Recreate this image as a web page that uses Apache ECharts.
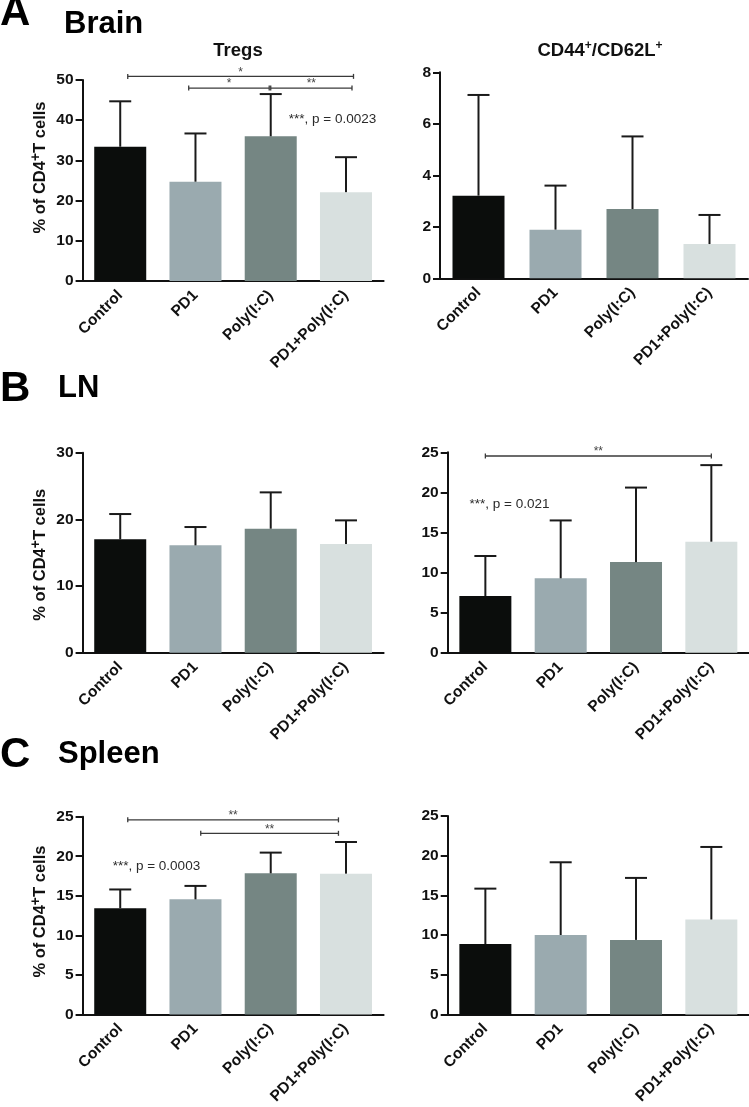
<!DOCTYPE html>
<html>
<head>
<meta charset="utf-8">
<script src="https://cdn.jsdelivr.net/npm/echarts@6/dist/echarts.min.js"></script>
<style>
html,body{margin:0;padding:0;background:#fff;}
#chart{width:749px;height:1107px;}
</style>
</head>
<body>
<div id="chart"></div>
<script>
// ---- data ----
const categories = ['Control', 'PD1', 'Poly(I:C)', 'PD1+Poly(I:C)'];
const barColors = ['#0b0d0c', '#9aaaaf', '#758683', '#d8e0df'];

const brainTregsMean  = [33.4, 24.7, 36.0, 22.1];
const brainTregsUpper = [44.7, 36.7, 46.5, 30.8];
const brainCD44Mean   = [3.21, 1.89, 2.69, 1.33];
const brainCD44Upper  = [7.12, 3.60, 5.51, 2.46];
const lnTregsMean     = [17.0, 16.1, 18.6, 16.3];
const lnTregsUpper    = [20.8, 18.85, 24.05, 19.85];
const lnCD44Mean      = [7.07, 9.28, 11.3, 13.85];
const lnCD44Upper     = [12.06, 16.5, 20.6, 23.4];
const spleenTregsMean  = [13.43, 14.55, 17.84, 17.8];
const spleenTregsUpper = [15.8, 16.25, 20.46, 21.8];
const spleenCD44Mean   = [8.86, 10.01, 9.39, 11.96];
const spleenCD44Upper  = [15.85, 19.17, 17.2, 21.1];

const yMax      = [50, 8, 30, 25, 25, 25];
const yInterval = [10, 2, 10, 5, 5, 5];

// significance brackets: [from (category pos), to (category pos), y value, label]
const brainTregsBrackets  = [[0.1, 3.1, 50.9, '*'], [0.91, 1.98, 48.0, '*'], [2.0, 3.08, 48.0, '**']];
const lnCD44Brackets      = [[0, 3, 24.54, '**']];
const spleenTregsBrackets = [[0.1, 2.9, 24.6, '**'], [1.07, 2.9, 22.9, '**']];
// notes: [x (category pos, left edge), y value, text]
const brainTregsNote  = [2.24, 40.3, '***, p = 0.0023'];
const lnCD44Note      = [-0.21, 18.55, '***, p = 0.021'];
const spleenTregsNote = [-0.1, 18.7, '***, p = 0.0003'];

// ---- layout ----
const FONT = '"Liberation Sans", Arial, Helvetica, sans-serif';
const grids = [
  {left: 82.6, top: 80,    width: 301,   height: 201},
  {left: 440,  top: 72.3,  width: 308,   height: 206},
  {left: 82.6, top: 452.7, width: 301,   height: 200},
  {left: 447.7,top: 452.3, width: 301.3, height: 200.4},
  {left: 82.6, top: 816.7, width: 301,   height: 200},
  {left: 447.7,top: 816,   width: 301.3, height: 201.3}
];
const panels = [
  {mean: brainTregsMean, upper: brainTregsUpper, brackets: brainTregsBrackets, note: brainTregsNote, yName: true, namePad: [0,0,0,26]},
  {mean: brainCD44Mean, upper: brainCD44Upper, brackets: [], note: null, yName: false},
  {mean: lnTregsMean, upper: lnTregsUpper, brackets: [], note: null, yName: true, namePad: [0,4,0,0]},
  {mean: lnCD44Mean, upper: lnCD44Upper, brackets: lnCD44Brackets, note: lnCD44Note, yName: false},
  {mean: spleenTregsMean, upper: spleenTregsUpper, brackets: spleenTregsBrackets, note: spleenTregsNote, yName: true, namePad: [0,0,0,8]},
  {mean: spleenCD44Mean, upper: spleenCD44Upper, brackets: [], note: null, yName: false}
];

const xAxes = [], yAxes = [], series = [];
panels.forEach((p, i) => {
  xAxes.push({
    type: 'category', gridIndex: i, data: categories,
    axisLine: {lineStyle: {color: '#111', width: 2}},
    axisTick: {alignWithLabel: true, length: 8, lineStyle: {color: '#111', width: 2}},
    axisLabel: {interval: 0, rotate: 45, margin: 12, color: '#111', fontSize: 15.5, fontWeight: 'bold', fontFamily: FONT}
  });
  const ya = {
    type: 'value', gridIndex: i, min: 0, max: yMax[i], interval: yInterval[i],
    splitLine: {show: false},
    axisLine: {show: true, lineStyle: {color: '#111', width: 2}},
    axisTick: {show: true, length: 7, lineStyle: {color: '#111', width: 2}},
    axisLabel: {margin: 9, color: '#111', fontSize: 15.5, fontWeight: 'bold', fontFamily: FONT}
  };
  if (p.yName) {
    ya.name = '{m|% of CD4}{s|+}{m|T cells}';
    ya.nameLocation = 'middle';
    ya.nameGap = 31;
    ya.nameTextStyle = {
      padding: p.namePad,
      rich: {
        m: {fontSize: 16.5, fontWeight: 'bold', color: '#111', fontFamily: FONT, lineHeight: 22},
        s: {fontSize: 14, fontWeight: 'bold', color: '#111', fontFamily: FONT, verticalAlign: 'top', lineHeight: 13}
      }
    };
  }
  yAxes.push(ya);

  series.push({
    type: 'bar', xAxisIndex: i, yAxisIndex: i, barWidth: 52,
    data: p.mean.map((v, k) => ({value: v, itemStyle: {color: barColors[k]}})),
    silent: true
  });
  series.push({
    type: 'custom', xAxisIndex: i, yAxisIndex: i, clip: false, silent: true, z: 3,
    data: p.mean.map((v, k) => [k, v, p.upper[k]]),
    encode: {x: 0, y: [1, 2]},
    renderItem: (params, api) => {
      const k = api.value(0);
      const p0 = api.coord([k, api.value(1)]);
      const p1 = api.coord([k, api.value(2)]);
      const half = 11;
      const st = {stroke: '#1a1a1a', lineWidth: 2};
      return {type: 'group', children: [
        {type: 'line', shape: {x1: p0[0], y1: p0[1], x2: p1[0], y2: p1[1]}, style: st},
        {type: 'line', shape: {x1: p1[0] - half, y1: p1[1], x2: p1[0] + half, y2: p1[1]}, style: st}
      ]};
    }
  });
  const annos = p.brackets.map(b => ({kind: 'b', d: b}));
  if (p.note) annos.push({kind: 'n', d: p.note});
  if (annos.length) {
    series.push({
      type: 'custom', xAxisIndex: i, yAxisIndex: i, clip: false, silent: true, z: 4,
      data: annos.map(a => [0, a.kind === 'b' ? a.d[2] : a.d[1]]),
      encode: {x: 0, y: 1},
      renderItem: (params, api) => {
        const a = annos[params.dataIndex];
        const yv = a.kind === 'b' ? a.d[2] : a.d[1];
        const c0 = api.coord([0, yv]);
        const c1 = api.coord([1, yv]);
        const step = c1[0] - c0[0];
        if (a.kind === 'b') {
          const x1 = c0[0] + a.d[0] * step, x2 = c0[0] + a.d[1] * step, y = c0[1];
          const st = {stroke: '#3a3a3a', lineWidth: 1.3};
          return {type: 'group', children: [
            {type: 'line', shape: {x1: x1, y1: y, x2: x2, y2: y}, style: st},
            {type: 'line', shape: {x1: x1, y1: y - 2.5, x2: x1, y2: y + 2.5}, style: st},
            {type: 'line', shape: {x1: x2, y1: y - 2.5, x2: x2, y2: y + 2.5}, style: st},
            {type: 'text', x: (x1 + x2) / 2, y: y + 2, style: {text: a.d[3], fill: '#444', fontSize: 12, fontFamily: FONT, align: 'center', verticalAlign: 'bottom'}}
          ]};
        } else {
          const x = c0[0] + a.d[0] * step;
          return {type: 'text', x: x, y: c0[1], style: {text: a.d[2], fill: '#2a2a2a', fontSize: 13.5, fontFamily: FONT, align: 'left', verticalAlign: 'middle'}};
        }
      }
    });
  }
});

const bigT = {fontSize: 42, fontWeight: 'bold', color: '#000', fontFamily: FONT};
const orgT = {fontSize: 31, fontWeight: 'bold', color: '#000', fontFamily: FONT};
const subT = {fontSize: 18.5, fontWeight: 'bold', color: '#111', fontFamily: FONT,
  rich: {m: {fontSize: 18.5, fontWeight: 'bold', color: '#111', fontFamily: FONT, lineHeight: 22},
         s: {fontSize: 12, fontWeight: 'bold', color: '#111', fontFamily: FONT, verticalAlign: 'top', lineHeight: 12}}};

const option = {
  animation: false,
  backgroundColor: '#fff',
  title: [
    {text: 'A', left: 0, top: -8, padding: 0, textStyle: bigT},
    {text: 'Brain', left: 64, top: 9, padding: 0, textStyle: orgT},
    {text: '{m|Tregs}', left: 238, textAlign: 'center', top: 40, padding: 0, textStyle: subT},
    {text: '{m|CD44}{s|+}{m|/CD62L}{s|+}', left: 600, textAlign: 'center', top: 40, padding: 0, textStyle: subT},
    {text: 'B', left: 0, top: 368, padding: 0, textStyle: bigT},
    {text: 'LN', left: 58, top: 373, padding: 0, textStyle: orgT},
    {text: 'C', left: 0, top: 734, padding: 0, textStyle: bigT},
    {text: 'Spleen', left: 58, top: 739, padding: 0, textStyle: orgT}
  ],
  grid: grids.map(g => Object.assign({containLabel: false}, g)),
  xAxis: xAxes,
  yAxis: yAxes,
  series: series
};

const chart = echarts.init(document.getElementById('chart'), null, {renderer: 'canvas'});
chart.setOption(option);
</script>
</body>
</html>
